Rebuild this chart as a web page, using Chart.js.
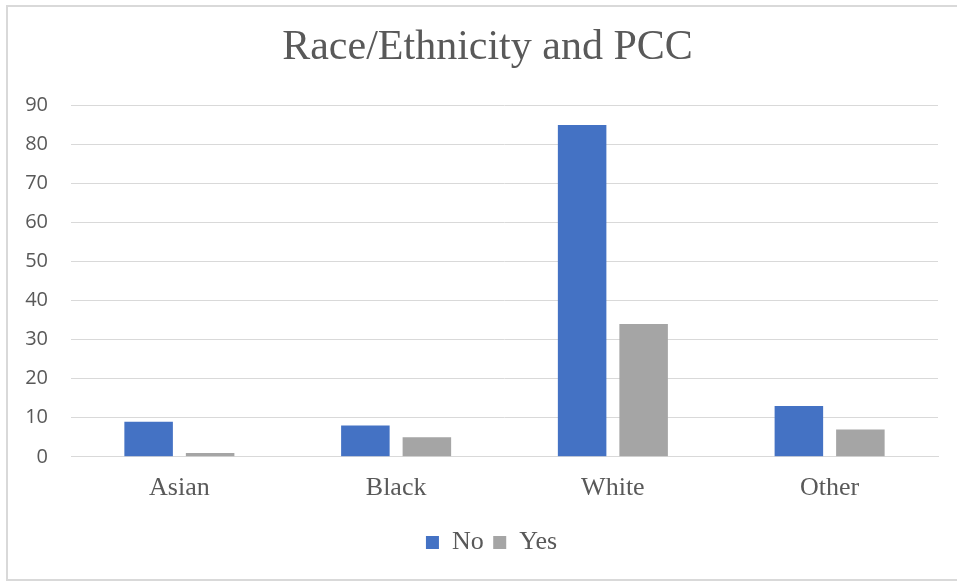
<!DOCTYPE html>
<html>
<head>
<meta charset="utf-8">
<title>Race/Ethnicity and PCC</title>
<script src="https://cdn.jsdelivr.net/npm/chart.js@4.4.0/dist/chart.umd.min.js"></script>
<style>
  html, body { margin: 0; padding: 0; background: #fff; }
  #frame {
    position: absolute; left: 6px; top: 5px;
    width: 955px; height: 576px;
    box-sizing: border-box;
    border: 2px solid #d9d9d9;
  }
  #holder { position: absolute; left: 0; top: 0; width: 957px; height: 581px; }
</style>
</head>
<body>
<div id="frame"></div>
<div id="holder"><canvas id="pccChart" width="957" height="581"></canvas></div>
<script>
// categories and counts per group
var categories = ['Asian', 'Black', 'White', 'Other'];
var noCounts = [9, 8, 85, 13];
var yesCounts = [1, 5, 34, 7];
var yTicks = [0, 10, 20, 30, 40, 50, 60, 70, 80, 90];

var textGrey = '#595959';
var serif = '"Liberation Serif", "Times New Roman", serif';

// nudge title and legend sideways so they sit centred on the whole frame
var centerBlocks = {
    id: 'centerBlocks',
    afterLayout: function(chart) {
        chart.titleBlock.left += 17;
        chart.titleBlock.right += 17;
        chart.legend.left += 21;
        chart.legend.right += 21;
    }
};

var ctx = document.getElementById('pccChart').getContext('2d');
var chart = new Chart(ctx, {
    type: 'bar',
    data: {
        labels: categories,
        datasets: [{
            label: 'No',
            data: noCounts,
            backgroundColor: '#4472c4',
            categoryPercentage: 0.5675,
            barPercentage: 0.789
        }, {
            label: 'Yes',
            data: yesCounts,
            backgroundColor: '#a5a5a5',
            categoryPercentage: 0.5675,
            barPercentage: 0.789
        }]
    },
    plugins: [centerBlocks],
    options: {
        responsive: false,
        animation: false,
        layout: {
            padding: { left: 3, right: 19, top: 0, bottom: 15.5 }
        },
        plugins: {
            title: {
                display: true,
                text: 'Race/Ethnicity and PCC',
                color: textGrey,
                font: { family: serif, size: 42, weight: 'normal' },
                padding: { top: 23, bottom: 32 }
            },
            legend: {
                position: 'bottom',
                labels: {
                    color: textGrey,
                    font: { family: serif, size: 26 },
                    boxWidth: 13,
                    boxHeight: 13,
                    padding: 9.5
                }
            },
            tooltip: { enabled: false }
        },
        scales: {
            x: {
                grid: { display: false, drawTicks: false },
                border: { color: '#d9d9d9', width: 1 },
                ticks: {
                    color: textGrey,
                    font: { family: serif, size: 26 },
                    padding: 16
                }
            },
            y: {
                min: 0,
                max: 90,
                afterBuildTicks: function(axis) {
                    axis.ticks = yTicks.map(function(v) { return { value: v }; });
                },
                afterFit: function(axis) {
                    axis.width = 68;
                },
                grid: { color: '#d9d9d9', lineWidth: 1, drawTicks: false },
                border: { display: false },
                ticks: {
                    color: textGrey,
                    font: { family: '"Open Sans", sans-serif', size: 20 },
                    padding: 23
                }
            }
        }
    }
});
</script>
</body>
</html>
